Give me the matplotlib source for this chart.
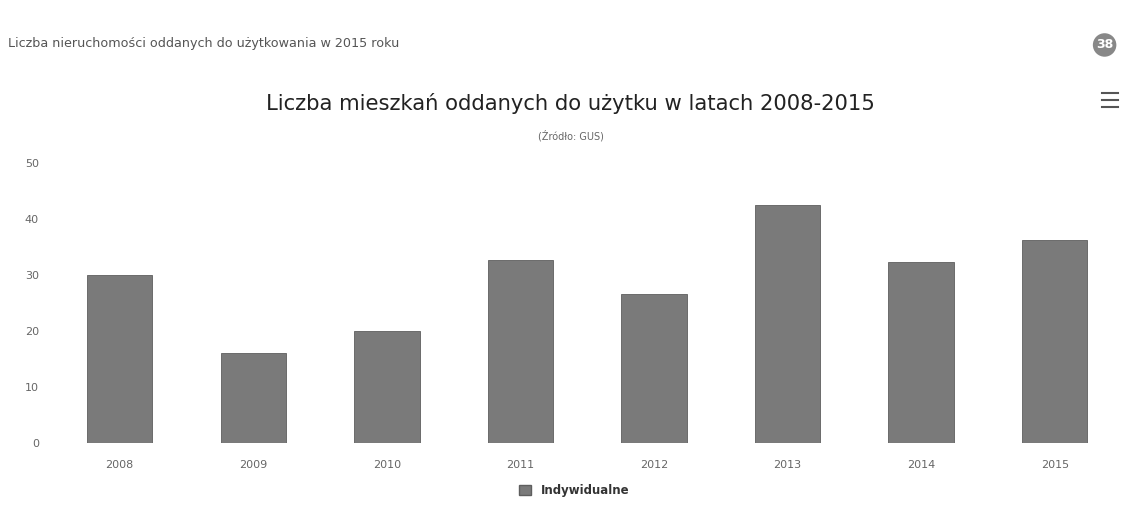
import matplotlib
matplotlib.use('Agg')
import matplotlib.pyplot as plt
from matplotlib.patches import Patch

# DATA
years = ['2008', '2009', '2010', '2011', '2012', '2013', '2014', '2015']
values = [30.0, 16.0, 20.0, 32.7, 26.6, 42.5, 32.4, 36.3]
y_ticks = [0, 10, 20, 30, 40, 50]

header = 'Liczba nieruchomości oddanych do użytkowania w 2015 roku'
title = 'Liczba mieszkań oddanych do użytku w latach 2008-2015'
subtitle = '(Źródło: GUS)'
series_name = 'Indywidualne'
page_no = '38'

BAR_COLOR = '#7a7a7a'

fig = plt.figure(figsize=(11.26, 5.11), dpi=100)
ax = fig.add_axes([0.047, 0.133, 0.949, 0.548])

x = list(range(len(years)))
ax.bar(x, values, width=0.49, color=BAR_COLOR, edgecolor='#5e5e5e', linewidth=0.6)

ax.set_xlim(-0.5, len(years) - 0.5)
ax.set_ylim(0, 50)
ax.set_yticks(y_ticks)
ax.set_xticks(x)
ax.set_xticklabels(years)
ax.tick_params(axis='both', length=0, labelsize=8, labelcolor='#666666')
ax.tick_params(axis='x', pad=12)
ax.tick_params(axis='y', pad=10)
for s in ax.spines.values():
    s.set_visible(False)

# Texts
fig.text(0.007, 0.914, header, fontsize=9.2, color='#555555', va='center', ha='left')
fig.text(0.507, 0.798, title, fontsize=15.2, color='#222222', va='center', ha='center')
fig.text(0.507, 0.735, subtitle, fontsize=7, color='#666666', va='center', ha='center')

# page number badge
fig.text(0.981, 0.912, page_no, fontsize=9, color='white', weight='bold', va='center', ha='center',
         bbox=dict(boxstyle='circle,pad=0.25', fc='#888888', ec='none'))

# menu icon
for dy in (0.0, 0.014, 0.028):
    fig.add_artist(plt.Line2D([0.979, 0.993], [0.790 + dy, 0.790 + dy], color='#555555', lw=1.5))

# legend
leg = fig.legend(handles=[Patch(facecolor=BAR_COLOR, edgecolor='#5e5e5e', label=series_name)],
                 loc='center', bbox_to_anchor=(0.51, 0.04), frameon=False, fontsize=8.5,
                 handlelength=1.0, handleheight=1.0)
for t in leg.get_texts():
    t.set_weight('bold')
    t.set_color('#333333')

fig.savefig('out.png', dpi=100)
